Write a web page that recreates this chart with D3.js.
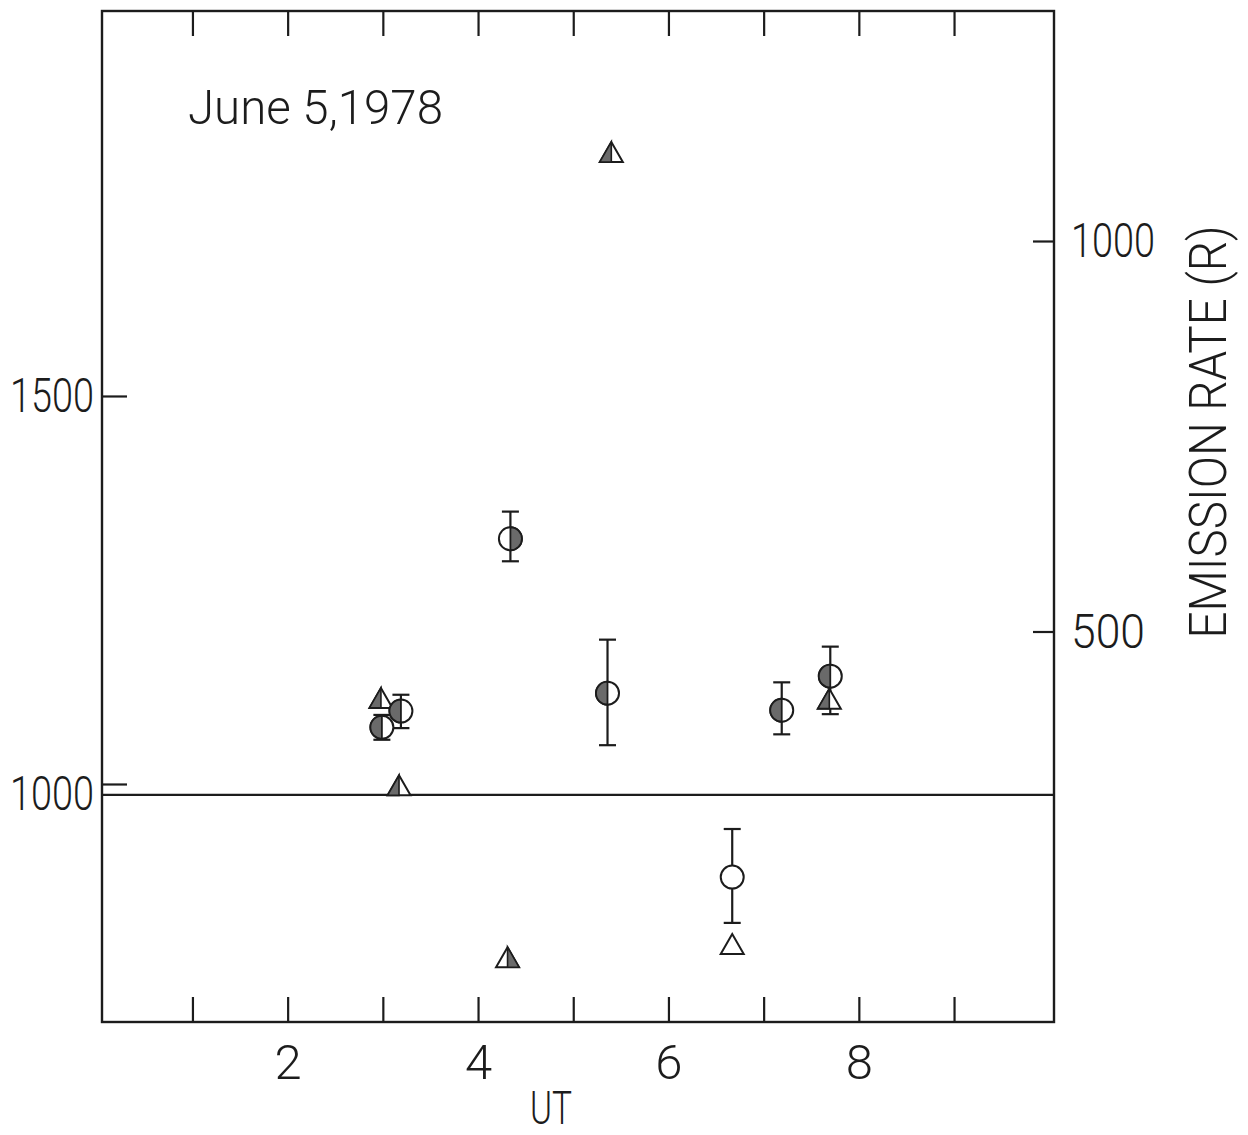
<!DOCTYPE html>
<html>
<head>
<meta charset="utf-8">
<script src="https://cdn.jsdelivr.net/npm/d3@7"></script>
<style>
  html, body { margin: 0; padding: 0; background: #fff; }
  svg text { font-family: Roboto, "DejaVu Sans Condensed", "Liberation Sans", sans-serif; font-weight: 300; fill: #1c1c1c; }
</style>
</head>
<body>
<svg id="chart" width="1248" height="1135"></svg>
<script>
// ---- data ----
const utTicks = [1, 2, 3, 4, 5, 6, 7, 8, 9];
const utLabels = [2, 4, 6, 8];
const leftTicks = [1000, 1500];
const rightTicks = [500, 1000];

// circles with error bars (left axis)
const circleUT   = [2.99, 3.19, 4.34, 5.36, 6.67, 7.19, 7.70];
const circleVal  = [1073, 1094, 1316, 1117, 880, 1095, 1139];
const circleLow  = [1057, 1072, 1287, 1050, 821, 1064, 1090];
const circleHigh = [1089, 1115, 1351, 1186, 942, 1131, 1177];
const circleFill = ["left", "left", "right", "left", "none", "left", "left"];

// triangles (right axis, emission rate R)
const triUT   = [2.98, 3.17, 4.31, 5.40, 6.67, 7.69];
const triRate = [415, 303, 83, 1114, 100, 414];
const triFill = ["left", "left", "right", "left", "none", "left"];

const refLineValue = 986;   // horizontal line, left axis units
const title = "June 5,1978";
const xTitle = "UT";
const rightTitle = "EMISSION RATE (R)";

// ---- layout ----
const L = 102, R = 1054, T = 11, B = 1022;
const ink = "#1c1c1c";
const shade = "#6a6a6a";
const digitW = 21;

const svg = d3.select("#chart");
svg.append("rect").attr("width", 1248).attr("height", 1135).attr("fill", "#fff");

const x = d3.scaleLinear().domain([0.05, 10.05]).range([L, R]);
const yL = d3.scaleLinear().domain([693.3, 1996.1]).range([B, T]);
const yR = d3.scaleLinear().domain([0, 1294.5]).range([B, T]);

function styleAxis(g) {
  g.select(".domain").remove();
  g.selectAll(".tick line").attr("stroke", ink).attr("stroke-width", 2.2);
  g.selectAll(".tick text").attr("font-size", 49).attr("fill", ink)
    .each(function () {
      const s = d3.select(this).text();
      if (s.length > 1) d3.select(this).attr("textLength", s.length === 3 ? 74 : 84)
        .attr("lengthAdjust", "spacingAndGlyphs");
    });
}

// bottom axis
svg.append("g").attr("transform", `translate(0,${B})`)
  .call(d3.axisBottom(x).tickValues(utTicks).tickSizeInner(-25).tickSizeOuter(0).tickPadding(22)
    .tickFormat(d => utLabels.includes(d) ? d : ""))
  .call(styleAxis);

// top axis (ticks only)
svg.append("g").attr("transform", `translate(0,${T})`)
  .call(d3.axisTop(x).tickValues(utTicks).tickSizeInner(-25).tickSizeOuter(0).tickFormat(""))
  .call(styleAxis);

// left axis
const gl = svg.append("g").attr("transform", `translate(${L},0)`)
  .call(d3.axisLeft(yL).tickValues(leftTicks).tickSizeInner(-25).tickSizeOuter(0).tickPadding(8)
    .tickFormat(d3.format("d")))
  .call(styleAxis);
gl.selectAll(".tick text").filter(d => d === 1000).attr("y", 10);

// right axis
svg.append("g").attr("transform", `translate(${R},0)`)
  .call(d3.axisRight(yR).tickValues(rightTicks).tickSizeInner(-21).tickSizeOuter(0).tickPadding(17)
    .tickFormat(d3.format("d")))
  .call(styleAxis);

// frame
svg.append("rect").attr("x", L).attr("y", T).attr("width", R - L).attr("height", B - T)
  .attr("fill", "none").attr("stroke", ink).attr("stroke-width", 2.4);

// horizontal reference line
svg.append("line").attr("x1", L).attr("x2", R)
  .attr("y1", yL(refLineValue)).attr("y2", yL(refLineValue))
  .attr("stroke", ink).attr("stroke-width", 2.4);

// titles
svg.append("text").attr("x", 188).attr("y", 124).attr("font-size", 49)
  .attr("textLength", 255).attr("lengthAdjust", "spacingAndGlyphs").text(title);
svg.append("text").attr("x", 551).attr("y", 1124).attr("font-size", 47)
  .attr("text-anchor", "middle").attr("textLength", 42).attr("lengthAdjust", "spacingAndGlyphs").text(xTitle);
svg.append("text").attr("transform", "translate(1226,432) rotate(-90)")
  .attr("font-size", 52).attr("text-anchor", "middle")
  .attr("textLength", 413).attr("lengthAdjust", "spacingAndGlyphs").text(rightTitle);

// ---- marks ----
const circles = circleUT.map((u, i) => ({u, v: circleVal[i], lo: circleLow[i], hi: circleHigh[i], f: circleFill[i]}));
const tris = triUT.map((u, i) => ({u, v: triRate[i], f: triFill[i]}));

const r = 11.5, cap = 8.5;
// error bars
const eb = svg.append("g").attr("stroke", ink).attr("stroke-width", 2.2);
circles.forEach(d => {
  const cx = x(d.u);
  eb.append("line").attr("x1", cx).attr("x2", cx).attr("y1", yL(d.hi)).attr("y2", yL(d.lo));
  eb.append("line").attr("x1", cx - cap).attr("x2", cx + cap).attr("y1", yL(d.hi)).attr("y2", yL(d.hi));
  eb.append("line").attr("x1", cx - cap).attr("x2", cx + cap).attr("y1", yL(d.lo)).attr("y2", yL(d.lo));
});

// triangles
const tw = 23, th = 20;
const tg = svg.append("g");
tris.forEach(d => {
  const cx = x(d.u), cy = yR(d.v);
  const top = [cx, cy - th / 2], bl = [cx - tw / 2, cy + th / 2], br = [cx + tw / 2, cy + th / 2];
  tg.append("path").attr("d", `M${top}L${bl}L${br}Z`)
    .attr("fill", "#fff").attr("stroke", ink).attr("stroke-width", 2);
  if (d.f !== "none") {
    const side = d.f === "left" ? bl : br;
    tg.append("path").attr("d", `M${top}L${side}L${cx},${cy + th / 2}Z`)
      .attr("fill", shade).attr("stroke", ink).attr("stroke-width", 1.6);
  }
});

// circles
const cg = svg.append("g");
circles.forEach(d => {
  const cx = x(d.u), cy = yL(d.v);
  cg.append("circle").attr("cx", cx).attr("cy", cy).attr("r", r)
    .attr("fill", "#fff").attr("stroke", ink).attr("stroke-width", 2);
  if (d.f !== "none") {
    const sweep = d.f === "left" ? 0 : 1;
    cg.append("path").attr("d", `M${cx},${cy - r}A${r},${r} 0 0 ${sweep} ${cx},${cy + r}Z`)
      .attr("fill", shade).attr("stroke", ink).attr("stroke-width", 1.8);
  }
});
</script>
</body>
</html>
